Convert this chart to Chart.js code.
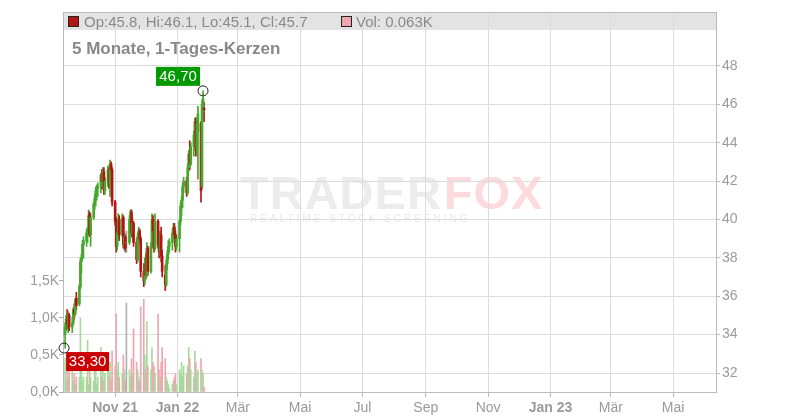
<!DOCTYPE html>
<html>
<head>
<meta charset="utf-8">
<script src="https://cdn.jsdelivr.net/npm/chart.js@4.4.0/dist/chart.umd.min.js"></script>
<style>
  html, body { margin: 0; padding: 0; background: #fff; }
  canvas { display: block; }
</style>
</head>
<body>
<canvas id="chart" width="800" height="420"></canvas>
<script>
// daily candles, first trading day 13.09.2021, weekdays only
const firstDay = '2021-09-13';
const opens = [
  34.0, 34.4, 34.8, 34.5, 35.0,  34.4, 34.6, 35.3, 35.1, 35.9,
  35.6, 36.5, 37.8, 38.0, 38.7,  38.9, 39.3, 39.5, 40.3, 39.2,
  40.1, 40.8, 41.1, 41.5, 41.6,  41.7, 42.3, 42.0, 42.5, 41.5,
  42.0, 42.6, 41.8, 42.9, 42.6,  40.9, 39.9, 38.6, 39.3, 40.0,
  39.2, 40.1, 38.7, 39.1, 38.8,  38.8, 40.0, 40.4, 39.3, 39.8,
  38.8, 37.9, 39.1, 39.4, 39.0,  37.3, 36.8, 37.7, 37.1, 38.5,
  37.3, 38.6, 40.0, 39.4, 38.5,  39.9, 38.7, 38.3, 39.2, 38.1,
  37.1, 36.6, 37.7, 38.2, 38.6,  38.8, 39.3, 39.6, 39.2, 38.6,
  39.0, 39.9, 40.7, 41.0, 41.7,  42.0, 41.4, 42.7, 43.4, 42.9,
  43.8, 44.4, 45.1, 43.6, 44.6,  45.0, 41.7, 45.6, 45.8
];
const highs = [
  34.6, 35.0, 35.3, 35.2, 35.1,  34.9, 35.4, 35.6, 35.9, 36.2,
  36.6, 38.0, 38.2, 38.9, 39.1,  39.5, 39.6, 40.5, 40.4, 40.3,
  40.9, 41.3, 41.7, 41.8, 41.9,  42.4, 42.6, 42.7, 42.7, 42.2,
  42.8, 42.7, 43.1, 43.0, 42.7,  41.0, 40.1, 39.6, 40.3, 40.2,
  40.3, 40.2, 39.3, 39.2, 39.4,  40.2, 40.5, 40.5, 40.1, 39.9,
  39.0, 39.3, 39.6, 39.5, 39.1,  37.7, 38.0, 38.2, 38.8, 38.6,
  38.8, 40.3, 40.2, 39.6, 40.3,  40.0, 39.1, 39.4, 39.6, 38.4,
  37.6, 37.9, 38.4, 38.9, 39.0,  39.5, 39.8, 39.8, 39.4, 39.2,
  40.0, 40.9, 41.2, 41.9, 42.2,  42.2, 42.9, 43.6, 44.1, 44.0,
  44.6, 45.3, 45.3, 45.2, 45.9,  45.1, 46.2, 46.7, 46.1
];
const lows = [
  33.3, 34.2, 34.3, 34.1, 34.2,  34.1, 34.5, 34.8, 35.0, 35.3,
  35.5, 36.4, 37.2, 37.9, 38.0,  38.6, 38.8, 39.2, 39.1, 38.6,
  40.0, 40.5, 40.7, 41.0, 41.2,  41.4, 41.6, 41.8, 41.3, 41.3,
  41.7, 41.6, 41.2, 42.3, 40.7,  39.7, 38.3, 38.4, 39.0, 38.9,
  39.1, 38.5, 38.4, 38.3, 38.3,  38.7, 39.6, 39.1, 39.0, 38.6,
  37.7, 37.8, 38.7, 38.9, 37.0,  36.5, 36.6, 36.9, 37.0, 37.1,
  37.2, 38.5, 39.1, 38.3, 38.4,  38.5, 38.0, 38.1, 37.8, 37.0,
  36.3, 36.5, 37.4, 37.9, 38.3,  38.4, 39.0, 39.0, 38.3, 38.4,
  38.3, 39.7, 40.2, 40.6, 41.4,  41.2, 41.3, 42.5, 42.6, 42.8,
  43.3, 44.2, 43.3, 43.4, 42.1,  40.9, 41.6, 45.4, 45.1
];
const closes = [
  34.4, 34.8, 34.5, 35.0, 34.4,  34.6, 35.3, 35.1, 35.8, 35.5,
  36.5, 37.8, 38.0, 38.7, 38.9,  39.3, 39.5, 40.2, 39.2, 40.1,
  40.8, 41.1, 41.5, 41.6, 41.7,  42.3, 42.0, 42.5, 41.5, 42.0,
  42.6, 41.8, 42.9, 42.6, 40.9,  39.9, 38.6, 39.3, 40.0, 39.2,
  40.1, 38.7, 39.1, 38.5, 38.8,  40.0, 40.4, 39.3, 39.8, 38.8,
  37.9, 39.1, 39.4, 39.0, 37.3,  36.8, 37.7, 37.1, 38.5, 37.3,
  38.6, 40.0, 39.4, 38.5, 39.9,  38.7, 38.3, 39.2, 38.1, 37.3,
  36.6, 37.7, 38.2, 38.6, 38.8,  39.3, 39.6, 39.2, 38.6, 39.0,
  39.9, 40.7, 41.0, 41.7, 42.0,  41.4, 42.7, 43.4, 42.9, 43.8,
  44.4, 45.1, 43.6, 45.0, 45.5,  41.5, 46.0, 46.3, 45.7
];
// volume in thousand shares
const volumes = [
  0.45, 0.15, 0.30, 0.20, 0.35,  0.50, 0.15, 0.25, 0.10, 0.20,
  0.20, 1.00, 0.30, 0.15, 0.20,  0.20, 0.70, 0.10, 0.35, 0.20,
  0.15, 0.30, 0.45, 0.10, 0.20,  0.60, 0.20, 0.30, 0.15, 0.25,
  0.30, 0.20, 0.40, 0.15, 0.55,  0.35, 1.05, 0.30, 0.40, 0.20,
  0.25, 0.50, 0.30, 0.15, 1.20,  0.30, 0.20, 0.45, 0.25, 0.85,
  0.40, 0.30, 0.20, 0.15, 1.15,  1.25, 0.50, 0.30, 0.95, 0.35,
  0.30, 0.60, 0.40, 0.35, 0.25,  1.05, 0.30, 0.20, 0.40, 0.60,
  0.45, 0.20, 0.15, 0.10, 0.05,  0.10, 0.15, 0.20, 0.25, 0.10,
  0.30, 0.25, 0.40, 0.20, 0.35,  0.25, 0.35, 0.60, 0.45, 0.30,
  0.20, 0.55, 0.40, 0.25, 0.30,  0.45, 0.30, 0.25, 0.063
];

const tickDates = ['2021-11-01', '2022-01-01', '2022-03-01', '2022-05-01', '2022-07-01',
                   '2022-09-01', '2022-11-01', '2023-01-01', '2023-03-01', '2023-05-01'];
const tickLabels = ['Nov 21', 'Jan 22', 'Mär', 'Mai', 'Jul', 'Sep', 'Nov', 'Jan 23', 'Mär', 'Mai'];
const priceTicks = [32, 34, 36, 38, 40, 42, 44, 46, 48];
const volTicks = [0, 0.5, 1.0, 1.5];

const FONT = '"Liberation Sans", Arial, sans-serif';
const GREEN = '#46a82c';
const RED = '#b31414';

function dayNum(s) {
  return (Date.parse(s) - Date.parse('2022-01-01')) / 864e5;
}

// weekday positions for the candles
const days = [];
let d = dayNum(firstDay);
while (days.length < opens.length) {
  const wd = new Date(Date.parse('2022-01-01') + d * 864e5).getUTCDay();
  if (wd !== 0 && wd !== 6) days.push(d);
  d++;
}

function candleColor(i) {
  if (closes[i] > opens[i]) return GREEN;
  if (closes[i] < opens[i]) return RED;
  return '#999';
}
function volColor(i) {
  if (closes[i] > opens[i]) return '#a6da9c';
  if (closes[i] < opens[i]) return '#f0a6b0';
  return '#b0b0b0';
}

const fmt = v => v.toFixed(2).replace('.', ',');

const backdrop = {
  id: 'backdrop',
  beforeDraw(chart) {
    const ctx = chart.ctx, a = chart.chartArea;
    ctx.save();
    // watermark
    ctx.font = 'bold 47px ' + FONT;
    ctx.textBaseline = 'alphabetic';
    ctx.letterSpacing = '1px';
    ctx.fillStyle = '#ececec';
    ctx.fillText('TRADER', 240, 209);
    const w = ctx.measureText('TRADER').width;
    ctx.fillStyle = '#fcdadd';
    ctx.fillText('FOX', 240 + w + 2, 209);
    ctx.font = '10px ' + FONT;
    ctx.letterSpacing = '3px';
    ctx.fillStyle = '#e8e8e8';
    ctx.fillText('REALTIME STOCK SCREENING', 250, 222);
    ctx.letterSpacing = '0px';
    // header band
    ctx.fillStyle = '#e3e3e3';
    ctx.fillRect(a.left, a.top, a.right - a.left, 18);
    ctx.restore();
  },
  afterDraw(chart) {
    const ctx = chart.ctx, a = chart.chartArea;
    const n = opens.length - 1;
    ctx.save();
    ctx.strokeStyle = '#bbb';
    ctx.lineWidth = 1;
    ctx.beginPath();
    ctx.moveTo(a.left, a.top + 0.5);
    ctx.lineTo(a.right, a.top + 0.5);
    ctx.stroke();
    ctx.font = '15px ' + FONT;
    ctx.textBaseline = 'alphabetic';
    ctx.fillStyle = candleColor(n);
    ctx.fillRect(a.left + 5, 16, 10, 10);
    ctx.strokeStyle = '#222';
    ctx.strokeRect(a.left + 5.5, 16.5, 10, 10);
    ctx.fillStyle = '#8a8a8a';
    ctx.fillText('Op:' + opens[n].toFixed(1) + ', Hi:' + highs[n].toFixed(1) +
      ', Lo:' + lows[n].toFixed(1) + ', Cl:' + closes[n].toFixed(1), a.left + 21, 27);
    ctx.fillStyle = volColor(n);
    ctx.fillRect(341, 16, 10, 10);
    ctx.strokeRect(341.5, 16.5, 10, 10);
    ctx.fillStyle = '#8a8a8a';
    ctx.fillText('Vol: ' + volumes[n].toFixed(3) + 'K', 356, 27);
    ctx.font = 'bold 17px ' + FONT;
    ctx.fillStyle = '#888';
    ctx.fillText('5 Monate, 1-Tages-Kerzen', 72, 54);
    ctx.restore();
  }
};

const extremes = {
  id: 'extremes',
  afterDatasetsDraw(chart) {
    const ctx = chart.ctx, xs = chart.scales.x, ys = chart.scales.y;
    const hi = highs.indexOf(Math.max(...highs));
    const lo = lows.indexOf(Math.min(...lows));
    ctx.save();
    ctx.font = '15px ' + FONT;
    ctx.textAlign = 'center';
    ctx.textBaseline = 'middle';
    // max
    let cx = xs.getPixelForValue(days[hi]), cy = ys.getPixelForValue(highs[hi]);
    ctx.fillStyle = '#009a00';
    ctx.fillRect(cx - 47, cy - 24, 44, 19);
    ctx.fillStyle = '#fff';
    ctx.fillText(fmt(highs[hi]), cx - 25, cy - 14);
    ctx.beginPath();
    ctx.arc(cx, cy, 5, 0, Math.PI * 2);
    ctx.strokeStyle = '#222';
    ctx.lineWidth = 1;
    ctx.stroke();
    // min
    cx = xs.getPixelForValue(days[lo]); cy = ys.getPixelForValue(lows[lo]);
    ctx.fillStyle = '#cc0000';
    ctx.fillRect(cx + 1, cy + 4, 43, 19);
    ctx.fillStyle = '#fff';
    ctx.fillText(fmt(lows[lo]), cx + 22.5, cy + 14);
    ctx.beginPath();
    ctx.arc(cx - 1, cy, 5, 0, Math.PI * 2);
    ctx.stroke();
    ctx.restore();
  }
};

const ctx = document.getElementById('chart').getContext('2d');
new Chart(ctx, {
  type: 'bar',
  data: {
    datasets: [
      {
        label: 'Bodies',
        data: days.map((x, i) => ({ x: x, y: [opens[i], closes[i]] })),
        backgroundColor: opens.map((_, i) => candleColor(i)),
        barThickness: 2,
        grouped: false,
        yAxisID: 'y',
        order: 1
      },
      {
        label: 'Wicks',
        data: days.map((x, i) => ({ x: x, y: [lows[i], highs[i]] })),
        backgroundColor: opens.map((_, i) => candleColor(i)),
        barThickness: 1,
        grouped: false,
        yAxisID: 'y',
        order: 2
      },
      {
        label: 'Volume',
        data: days.map((x, i) => ({ x: x, y: volumes[i] })),
        backgroundColor: opens.map((_, i) => volColor(i)),
        barThickness: 1,
        grouped: false,
        yAxisID: 'yVol',
        order: 3
      }
    ]
  },
  options: {
    responsive: false,
    animation: false,
    devicePixelRatio: 1,
    layout: { padding: { top: 12, left: 0, right: 0, bottom: 0 } },
    plugins: {
      legend: { display: false },
      tooltip: { enabled: false }
    },
    scales: {
      x: {
        type: 'linear',
        offset: false,
        min: -112.04,
        max: 526.95,
        afterBuildTicks: s => { s.ticks = tickDates.map(t => ({ value: dayNum(t) })); },
        afterFit: s => { s.height = 28; },
        grid: { offset: false, color: '#dcdcdc', tickLength: 5, tickColor: '#bbb' },
        border: { color: '#bbb' },
        ticks: {
          autoSkip: false,
          maxRotation: 0,
          padding: 3,
          color: '#9a9a9a',
          font: c => ({ family: FONT, size: 14, weight: /\d/.test(tickLabels[c.index] || '') ? 'bold' : 'normal' }),
          callback: (v, i) => tickLabels[i]
        }
      },
      y: {
        position: 'right',
        min: 31.01,
        max: 50.81,
        afterBuildTicks: s => { s.ticks = priceTicks.map(v => ({ value: v })); },
        afterFit: s => { s.width = 84; },
        grid: { color: '#dcdcdc', tickLength: 4, tickColor: '#bbb' },
        border: { color: '#bbb' },
        ticks: {
          padding: 2,
          color: '#9a9a9a',
          font: { family: FONT, size: 14 },
          callback: v => v
        }
      },
      yVol: {
        position: 'left',
        min: 0,
        max: 5.12,
        afterBuildTicks: s => { s.ticks = volTicks.map(v => ({ value: v })); },
        afterFit: s => { s.width = 63; },
        grid: { drawOnChartArea: false, tickLength: 4, color: '#aaa' },
        border: { color: '#bbb' },
        ticks: {
          padding: 0,
          color: '#9a9a9a',
          font: { family: FONT, size: 14 },
          callback: v => v.toFixed(1).replace('.', ',') + 'K'
        }
      }
    }
  },
  plugins: [backdrop, extremes]
});
</script>
</body>
</html>
